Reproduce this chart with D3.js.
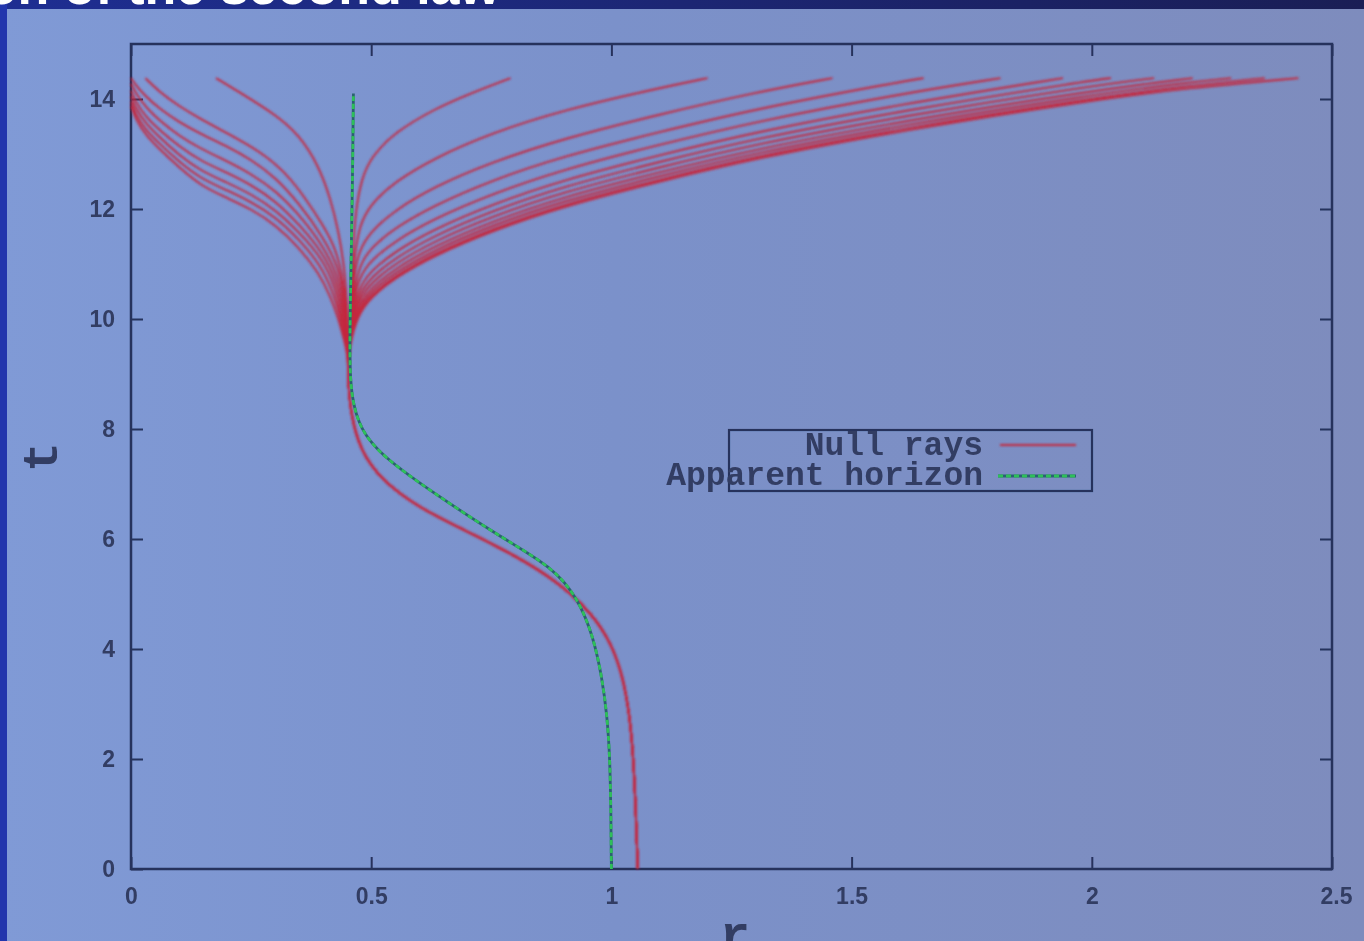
<!DOCTYPE html>
<html>
<head>
<meta charset="utf-8">
<script src="https://cdn.jsdelivr.net/npm/d3@7"></script>
<style>
  html, body { margin: 0; padding: 0; overflow: hidden; background: #7d90c6; }
  svg { display: block; }
</style>
</head>
<body>
<svg id="chart" width="1364" height="941"></svg>
<script>
// ---- axis ticks ----
const xTicks = [0, 0.5, 1, 1.5, 2, 2.5];
const xTickLabels = ["0", "0.5", "1", "1.5", "2", "2.5"];
const yTicks = [0, 2, 4, 6, 8, 10, 12, 14];
const yTickLabels = ["0", "2", "4", "6", "8", "10", "12", "14"];
const legendLabels = ["Null rays", "Apparent horizon"];

// ---- null rays: shared early history [r, t] ----
const rayTrunk = [
  [1.055, 0], [1.051, 1], [1.046, 2], [1.038, 2.8], [1.024, 3.5], [1.0, 4.1],
  [0.96, 4.65], [0.885, 5.25], [0.795, 5.72], [0.70, 6.14], [0.6, 6.56],
  [0.52, 7.08], [0.477, 7.62], [0.458, 8.25], [0.452, 8.85], [0.452, 9.3]
];

// rays that fall back towards r = 0
const infallingRays = [
  [[0.452, 9.9], [0.448, 10.5], [0.443, 11.0], [0.432, 11.6], [0.415, 12.2], [0.39, 12.8],
   [0.35, 13.35], [0.3, 13.72], [0.23, 14.1], [0.177, 14.38]],
  [[0.451, 9.8], [0.447, 10.3], [0.44, 10.8], [0.425, 11.3], [0.4, 11.7], [0.363, 12.2],
   [0.32, 12.68], [0.27, 13.04], [0.2, 13.38], [0.14, 13.66], [0.1, 13.87], [0.06, 14.12], [0.03, 14.38]],
  [[0.449, 9.85], [0.443, 10.4], [0.432, 10.95], [0.4, 11.49], [0.35, 12.1], [0.3, 12.58],
   [0.25, 12.9], [0.2, 13.14], [0.144, 13.37], [0.1, 13.58], [0.06, 13.82], [0.03, 14.05], [0.01, 14.25], [0.0, 14.38]],
  [[0.448, 9.8], [0.441, 10.3], [0.43, 10.8], [0.4, 11.33], [0.35, 11.9], [0.3, 12.34],
   [0.25, 12.64], [0.2, 12.87], [0.144, 13.1], [0.1, 13.33], [0.06, 13.6], [0.03, 13.86], [0.01, 14.1], [0.0, 14.28]],
  [[0.447, 9.75], [0.439, 10.2], [0.427, 10.7], [0.4, 11.2], [0.35, 11.72], [0.3, 12.15],
   [0.25, 12.44], [0.2, 12.66], [0.144, 12.88], [0.1, 13.14], [0.06, 13.43], [0.03, 13.68], [0.01, 13.95], [0.0, 14.15]],
  [[0.446, 9.7], [0.437, 10.1], [0.424, 10.6], [0.4, 11.08], [0.35, 11.58], [0.3, 11.99],
   [0.25, 12.27], [0.2, 12.48], [0.144, 12.7], [0.1, 12.98], [0.06, 13.3], [0.03, 13.56], [0.01, 13.83], [0.0, 14.05]],
  [[0.445, 9.65], [0.435, 10.05], [0.42, 10.5], [0.395, 10.98], [0.35, 11.45], [0.3, 11.86],
   [0.25, 12.13], [0.2, 12.34], [0.144, 12.56], [0.1, 12.86], [0.06, 13.18], [0.03, 13.44], [0.01, 13.72], [0.0, 13.95]],
  [[0.444, 9.6], [0.432, 10.0], [0.415, 10.42], [0.39, 10.85], [0.35, 11.3], [0.3, 11.72],
   [0.25, 12.0], [0.2, 12.2], [0.144, 12.43], [0.1, 12.76], [0.06, 13.08], [0.03, 13.35], [0.01, 13.63], [0.0, 13.87]]
];

// rays that escape to large r
const escapingRays = [
  [[0.457, 10.3], [0.462, 11.3], [0.468, 12.0], [0.48, 12.55], [0.5, 12.95], [0.55, 13.4],
   [0.63, 13.81], [0.7, 14.08], [0.79, 14.38]],
  [[0.458, 10.2], [0.463, 11.0], [0.475, 11.72], [0.5, 12.1], [0.55, 12.5], [0.63, 12.92],
   [0.75, 13.38], [0.9, 13.8], [1.1, 14.2], [1.2, 14.38]],
  [[0.458, 10.0], [0.465, 10.85], [0.475, 11.25], [0.5, 11.6], [0.55, 11.98], [0.63, 12.4],
   [0.75, 12.85], [0.9, 13.28], [1.1, 13.72], [1.3, 14.12], [1.46, 14.38]],
  [[0.46, 10.3], [0.475, 10.99], [0.5, 11.3], [0.55, 11.66], [0.63, 12.06], [0.75, 12.52],
   [0.9, 12.96], [1.1, 13.4], [1.3, 13.82], [1.6, 14.31], [1.65, 14.38]],
  [[0.46, 10.2], [0.475, 10.77], [0.5, 11.07], [0.55, 11.42], [0.63, 11.82], [0.75, 12.27],
   [0.9, 12.72], [1.1, 13.17], [1.3, 13.59], [1.6, 14.09], [1.81, 14.38]],
  [[0.46, 10.1], [0.475, 10.58], [0.5, 10.88], [0.55, 11.23], [0.63, 11.63], [0.75, 12.08],
   [0.9, 12.53], [1.1, 12.98], [1.3, 13.4], [1.6, 13.9], [1.94, 14.38]],
  [[0.46, 10.0], [0.475, 10.46], [0.5, 10.76], [0.55, 11.11], [0.63, 11.51], [0.75, 11.96],
   [0.9, 12.41], [1.1, 12.86], [1.3, 13.28], [1.6, 13.78], [2.0, 14.34], [2.04, 14.38]],
  [[0.46, 9.95], [0.475, 10.36], [0.5, 10.66], [0.55, 11.01], [0.63, 11.41], [0.75, 11.86],
   [0.9, 12.31], [1.1, 12.76], [1.3, 13.18], [1.6, 13.68], [2.0, 14.24], [2.13, 14.38]],
  [[0.46, 9.87], [0.475, 10.27], [0.5, 10.57], [0.55, 10.92], [0.63, 11.32], [0.75, 11.77],
   [0.9, 12.22], [1.1, 12.67], [1.3, 13.09], [1.6, 13.59], [2.0, 14.15], [2.21, 14.38]],
  [[0.46, 9.8], [0.475, 10.2], [0.5, 10.5], [0.55, 10.85], [0.63, 11.25], [0.75, 11.7],
   [0.9, 12.15], [1.1, 12.6], [1.3, 13.02], [1.6, 13.52], [2.0, 14.08], [2.2, 14.3], [2.29, 14.38]],
  [[0.46, 9.74], [0.475, 10.14], [0.5, 10.44], [0.55, 10.79], [0.63, 11.19], [0.75, 11.64],
   [0.9, 12.09], [1.1, 12.54], [1.3, 12.96], [1.6, 13.46], [2.0, 14.02], [2.2, 14.24], [2.36, 14.38]],
  [[0.46, 9.7], [0.475, 10.1], [0.5, 10.4], [0.55, 10.75], [0.63, 11.15], [0.75, 11.6],
   [0.9, 12.05], [1.1, 12.5], [1.3, 12.92], [1.6, 13.42], [2.0, 13.98], [2.2, 14.2], [2.43, 14.38]]
];

// apparent horizon [r, t]
const apparentHorizon = [
  [1.0, 0], [0.999, 1], [0.997, 2], [0.991, 2.8], [0.98, 3.5], [0.963, 4.2], [0.932, 4.9],
  [0.878, 5.49], [0.768, 6.04], [0.629, 6.84], [0.525, 7.49], [0.477, 7.98], [0.458, 8.6],
  [0.455, 9.3], [0.457, 10.5], [0.459, 11.5], [0.461, 12.5], [0.462, 13.3], [0.463, 14.1]
];

// ---- drawing ----
const W = 1364, H = 941;
const svg = d3.select("#chart");
const defs = svg.append("defs");

const bgGrad = defs.append("linearGradient").attr("id", "bg").attr("x1", 0).attr("x2", 1).attr("y1", 0).attr("y2", 0);
bgGrad.append("stop").attr("offset", 0).attr("stop-color", "#809ad6");
bgGrad.append("stop").attr("offset", 0.45).attr("stop-color", "#7b91ca");
bgGrad.append("stop").attr("offset", 1).attr("stop-color", "#7e8cbd");

const bandGrad = defs.append("linearGradient").attr("id", "band").attr("x1", 0).attr("x2", 1).attr("y1", 0).attr("y2", 0);
bandGrad.append("stop").attr("offset", 0).attr("stop-color", "#1e2e92");
bandGrad.append("stop").attr("offset", 1).attr("stop-color", "#1a1e55");

// blur filters span the whole page so thin horizontal strokes are not clipped
function addBlur(id, sd) {
  defs.append("filter").attr("id", id)
    .attr("filterUnits", "userSpaceOnUse")
    .attr("x", 0).attr("y", 0).attr("width", W).attr("height", H)
    .append("feGaussianBlur").attr("stdDeviation", sd);
}
addBlur("soft", 0.6);
addBlur("softer", 0.8);

// slide background
svg.append("rect").attr("width", W).attr("height", H).attr("fill", "url(#bg)");
svg.append("rect").attr("width", W).attr("height", 9).attr("fill", "url(#band)");
svg.append("rect").attr("width", 7).attr("height", H).attr("fill", "#2236ad");
svg.append("text")
  .attr("x", 500).attr("y", 3.5)
  .attr("text-anchor", "end")
  .attr("font-family", "Liberation Sans, Arial, sans-serif")
  .attr("font-weight", "bold").attr("font-size", 52)
  .attr("fill", "#ffffff")
  .text("Violation of the second law");

const x = d3.scaleLinear().domain([0, 2.5]).range([131, 1332]);
const y = d3.scaleLinear().domain([0, 15]).range([869, 44]);

const plot = svg.append("g").attr("filter", "url(#soft)");
const ink = "#27325c";
const labelInk = "#333d63";

// axes with inward ticks on all four sides
const axB = plot.append("g").attr("transform", `translate(0,${y(0)})`)
  .call(d3.axisBottom(x).tickValues(xTicks).tickFormat((d, i) => xTickLabels[i])
    .tickSizeInner(-12).tickSizeOuter(0).tickPadding(19));
const axT = plot.append("g").attr("transform", `translate(0,${y(15)})`)
  .call(d3.axisTop(x).tickValues(xTicks).tickFormat("").tickSizeInner(-12).tickSizeOuter(0));
const axL = plot.append("g").attr("transform", `translate(${x(0)},0)`)
  .call(d3.axisLeft(y).tickValues(yTicks).tickFormat((d, i) => yTickLabels[i])
    .tickSizeInner(-12).tickSizeOuter(0).tickPadding(16));
const axR = plot.append("g").attr("transform", `translate(${x(2.5)},0)`)
  .call(d3.axisRight(y).tickValues(yTicks).tickFormat("").tickSizeInner(-12).tickSizeOuter(0));

[axB, axT, axL, axR].forEach(g => {
  g.select(".domain").remove();
  g.selectAll(".tick line").attr("stroke", ink).attr("stroke-width", 2);
  g.selectAll(".tick text")
    .attr("font-family", "Liberation Sans, Arial, sans-serif")
    .attr("font-size", 23).attr("font-weight", "bold").attr("fill", labelInk);
});
axB.selectAll(".tick text").filter((d) => d === 2.5).attr("dx", 4);

// frame
plot.append("rect")
  .attr("x", x(0)).attr("y", y(15))
  .attr("width", x(2.5) - x(0)).attr("height", y(0) - y(15))
  .attr("fill", "none").attr("stroke", ink).attr("stroke-width", 2.5);

// axis titles
plot.append("text")
  .attr("transform", "translate(57,457) rotate(-90)")
  .attr("text-anchor", "middle")
  .attr("font-family", "Liberation Mono, Courier New, monospace")
  .attr("font-weight", "bold").attr("font-size", 50).attr("fill", labelInk)
  .text("t");
plot.append("text")
  .attr("x", 735).attr("y", 951)
  .attr("text-anchor", "middle")
  .attr("font-family", "Liberation Mono, Courier New, monospace")
  .attr("font-weight", "bold").attr("font-size", 50).attr("fill", labelInk)
  .text("r");

const line = d3.line()
  .x(d => x(d[0])).y(d => y(d[1]))
  .curve(d3.curveBasis);

const rayColor = "#c4283e";
const rayWidth = 1.9;
const allRays = infallingRays.concat(escapingRays).map(branch => rayTrunk.concat(branch));

plot.append("g").attr("filter", "url(#softer)")
  .selectAll("path").data(allRays).join("path")
  .attr("d", line)
  .attr("fill", "none")
  .attr("stroke", rayColor)
  .attr("stroke-width", rayWidth)
  .attr("stroke-linejoin", "round");

// apparent horizon: dark core with green dashes on top
plot.append("path").attr("d", line(apparentHorizon))
  .attr("fill", "none").attr("stroke", "#2c6470").attr("stroke-width", 2.8);
plot.append("path").attr("d", line(apparentHorizon))
  .attr("fill", "none").attr("stroke", "#2fbf5a").attr("stroke-width", 2.8)
  .attr("stroke-dasharray", "5,3");

// legend
const leg = plot.append("g");
leg.append("rect").attr("x", 729).attr("y", 430).attr("width", 363).attr("height", 61)
  .attr("fill", "none").attr("stroke", ink).attr("stroke-width", 2.2);
leg.selectAll("text").data(legendLabels).join("text")
  .attr("x", 983).attr("y", (d, i) => 455 + i * 30)
  .attr("text-anchor", "end")
  .attr("font-family", "Liberation Mono, Courier New, monospace")
  .attr("font-weight", "bold").attr("font-size", 33).attr("fill", labelInk)
  .text(d => d);
leg.append("g").attr("filter", "url(#softer)")
  .append("line").attr("x1", 1000).attr("x2", 1076).attr("y1", 445).attr("y2", 445)
  .attr("stroke", rayColor).attr("stroke-width", rayWidth);
leg.append("line").attr("x1", 998).attr("x2", 1076).attr("y1", 476).attr("y2", 476)
  .attr("stroke", "#2c6470").attr("stroke-width", 2.8);
leg.append("line").attr("x1", 998).attr("x2", 1076).attr("y1", 476).attr("y2", 476)
  .attr("stroke", "#2fbf5a").attr("stroke-width", 2.8).attr("stroke-dasharray", "5,3");
</script>
</body>
</html>
